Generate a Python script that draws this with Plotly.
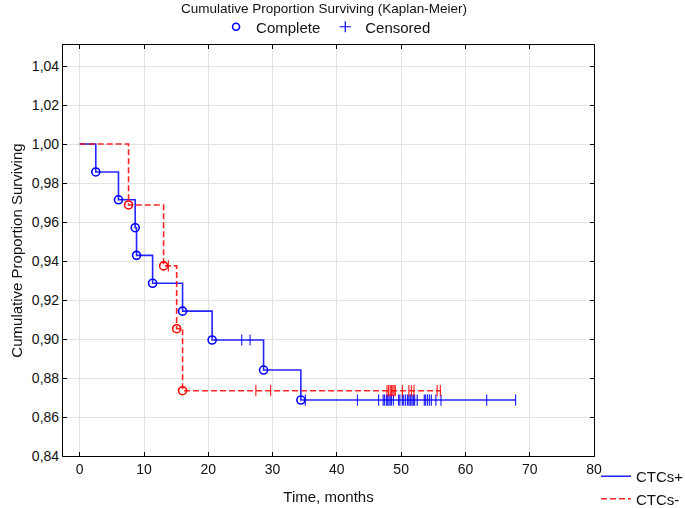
import numpy as np
import plotly.graph_objects as go

# ---- data ----
# CTCs+ (blue): event (complete) times and survival after each event
pos_event_t = [2.5, 6.03, 8.63, 8.84, 11.34, 16.0, 20.6, 28.6, 34.4]
pos_event_s = [0.9857, 0.9714, 0.9571, 0.9429, 0.9286, 0.9143, 0.8995, 0.8841, 0.8687]
pos_end_t = 67.8
pos_censored_t = [25.2, 26.5, 35.1, 43.2, 46.5, 47.2, 47.4, 47.7, 47.9, 48.1, 48.3, 48.5,
                  48.8, 49.6, 49.8, 50.2, 50.4, 50.7, 51.0, 51.2, 51.4, 51.5, 51.7, 51.9,
                  52.1, 52.5, 53.6, 53.8, 54.1, 54.4, 54.7, 55.4, 56.2, 63.3, 67.8]

# CTCs- (red)
neg_event_t = [7.6, 13.05, 15.08, 16.0]
neg_event_s = [0.96875, 0.9375, 0.9053, 0.8735]
neg_end_t = 56.2
neg_censored_t = [13.8, 27.4, 29.7, 47.8, 48.05, 48.3, 48.5, 48.7, 48.9, 49.1, 50.2,
                  51.2, 51.6, 52.0, 55.6, 56.1]

x_ticks = [0, 10, 20, 30, 40, 50, 60, 70, 80]
y_ticks = [0.84, 0.86, 0.88, 0.90, 0.92, 0.94, 0.96, 0.98, 1.00, 1.02, 1.04]

BLUE = "#0000ff"
RED = "#ff0000"


def step_curve(ev_t, ev_s, end_t):
    xs = [0] + list(ev_t) + [end_t]
    ys = [1.0] + list(ev_s) + [ev_s[-1]]
    return xs, ys


def level_at(t, ev_t, ev_s):
    s = 1.0
    for et, es in zip(ev_t, ev_s):
        if et <= t:
            s = es
    return s


fig = go.Figure()

for name, ev_t, ev_s, end_t, cens, col, dash in [
    ("CTCs+", pos_event_t, pos_event_s, pos_end_t, pos_censored_t, BLUE, "solid"),
    ("CTCs-", neg_event_t, neg_event_s, neg_end_t, neg_censored_t, RED, "6px,3px"),
]:
    xs, ys = step_curve(ev_t, ev_s, end_t)
    fig.add_trace(go.Scatter(
        x=xs, y=ys, mode="lines", name=name, legend="legend2",
        line=dict(color=col, width=1.6, dash=dash, shape="hv"), opacity=0.85,
    ))
    fig.add_trace(go.Scatter(
        x=ev_t, y=ev_s, mode="markers", showlegend=False,
        marker=dict(symbol="circle-open", size=8, color=col, line=dict(width=1.6)),
    ))
    fig.add_trace(go.Scatter(
        x=cens, y=[level_at(t, ev_t, ev_s) for t in cens], mode="markers", showlegend=False,
        marker=dict(symbol="line-ns", size=8, color=col, line=dict(width=1.2, color=col)),
        opacity=0.85,
    ))

# top legend entries
fig.add_trace(go.Scatter(
    x=[None], y=[None], mode="markers", name="Complete", legend="legend",
    marker=dict(symbol="circle-open", size=7, color=BLUE, line=dict(width=1.6)),
))
fig.add_trace(go.Scatter(
    x=[None], y=[None], mode="markers", name="Censored", legend="legend",
    marker=dict(symbol="cross-thin", size=8, color=BLUE, line=dict(width=1.2, color=BLUE)),
))

font_family = "Liberation Sans, Arial, sans-serif"

fig.update_layout(
    width=685, height=508,
    margin=dict(l=63, r=91, t=45, b=52, autoexpand=False),
    paper_bgcolor="white", plot_bgcolor="white",
    separators=",.",
    font=dict(family=font_family, size=14, color="#111111"),
    title=dict(text="Cumulative Proportion Surviving (Kaplan-Meier)", x=0.473, xref="container",
               xanchor="center", yref="container", y=1 - 8 / 508, yanchor="middle",
               font=dict(size=13.5)),
    xaxis=dict(
        range=[-2.6, 80], tickvals=x_ticks, ticks="inside", ticklen=4, tickcolor="black",
        showline=True, linecolor="black", linewidth=1.2, mirror="ticks",
        showgrid=True, gridcolor="#e3e3e3", gridwidth=1, zeroline=False,
        tickfont=dict(size=14),
        title=dict(text="Time, months", standoff=15, font=dict(size=15)),
    ),
    yaxis=dict(
        range=[0.84, 1.0508], tickvals=y_ticks, tickformat=".2f", ticks="inside", ticklen=4,
        tickcolor="black", showline=True, linecolor="black", linewidth=1.2, mirror="ticks",
        showgrid=True, gridcolor="#e3e3e3", gridwidth=1, zeroline=False,
        tickfont=dict(size=14),
        title=dict(text="Cumulative Proportion Surviving", standoff=5, font=dict(size=15)),
    ),
    legend=dict(orientation="h", xref="container", yref="container",
                x=0.476, xanchor="center", y=1 - 27 / 508, yanchor="middle",
                bgcolor="rgba(0,0,0,0)", font=dict(size=15), itemwidth=30),
    legend2=dict(orientation="v", xref="container", yref="container",
                 x=596 / 685, xanchor="left", y=1 - 460 / 508, yanchor="top",
                 bgcolor="rgba(0,0,0,0)", font=dict(size=15), tracegroupgap=0,
                 itemwidth=30),
)

fig.write_html("out.html", config={"displayModeBar": False},
               post_script="document.body.style.margin='0';document.body.style.overflow='hidden';")
